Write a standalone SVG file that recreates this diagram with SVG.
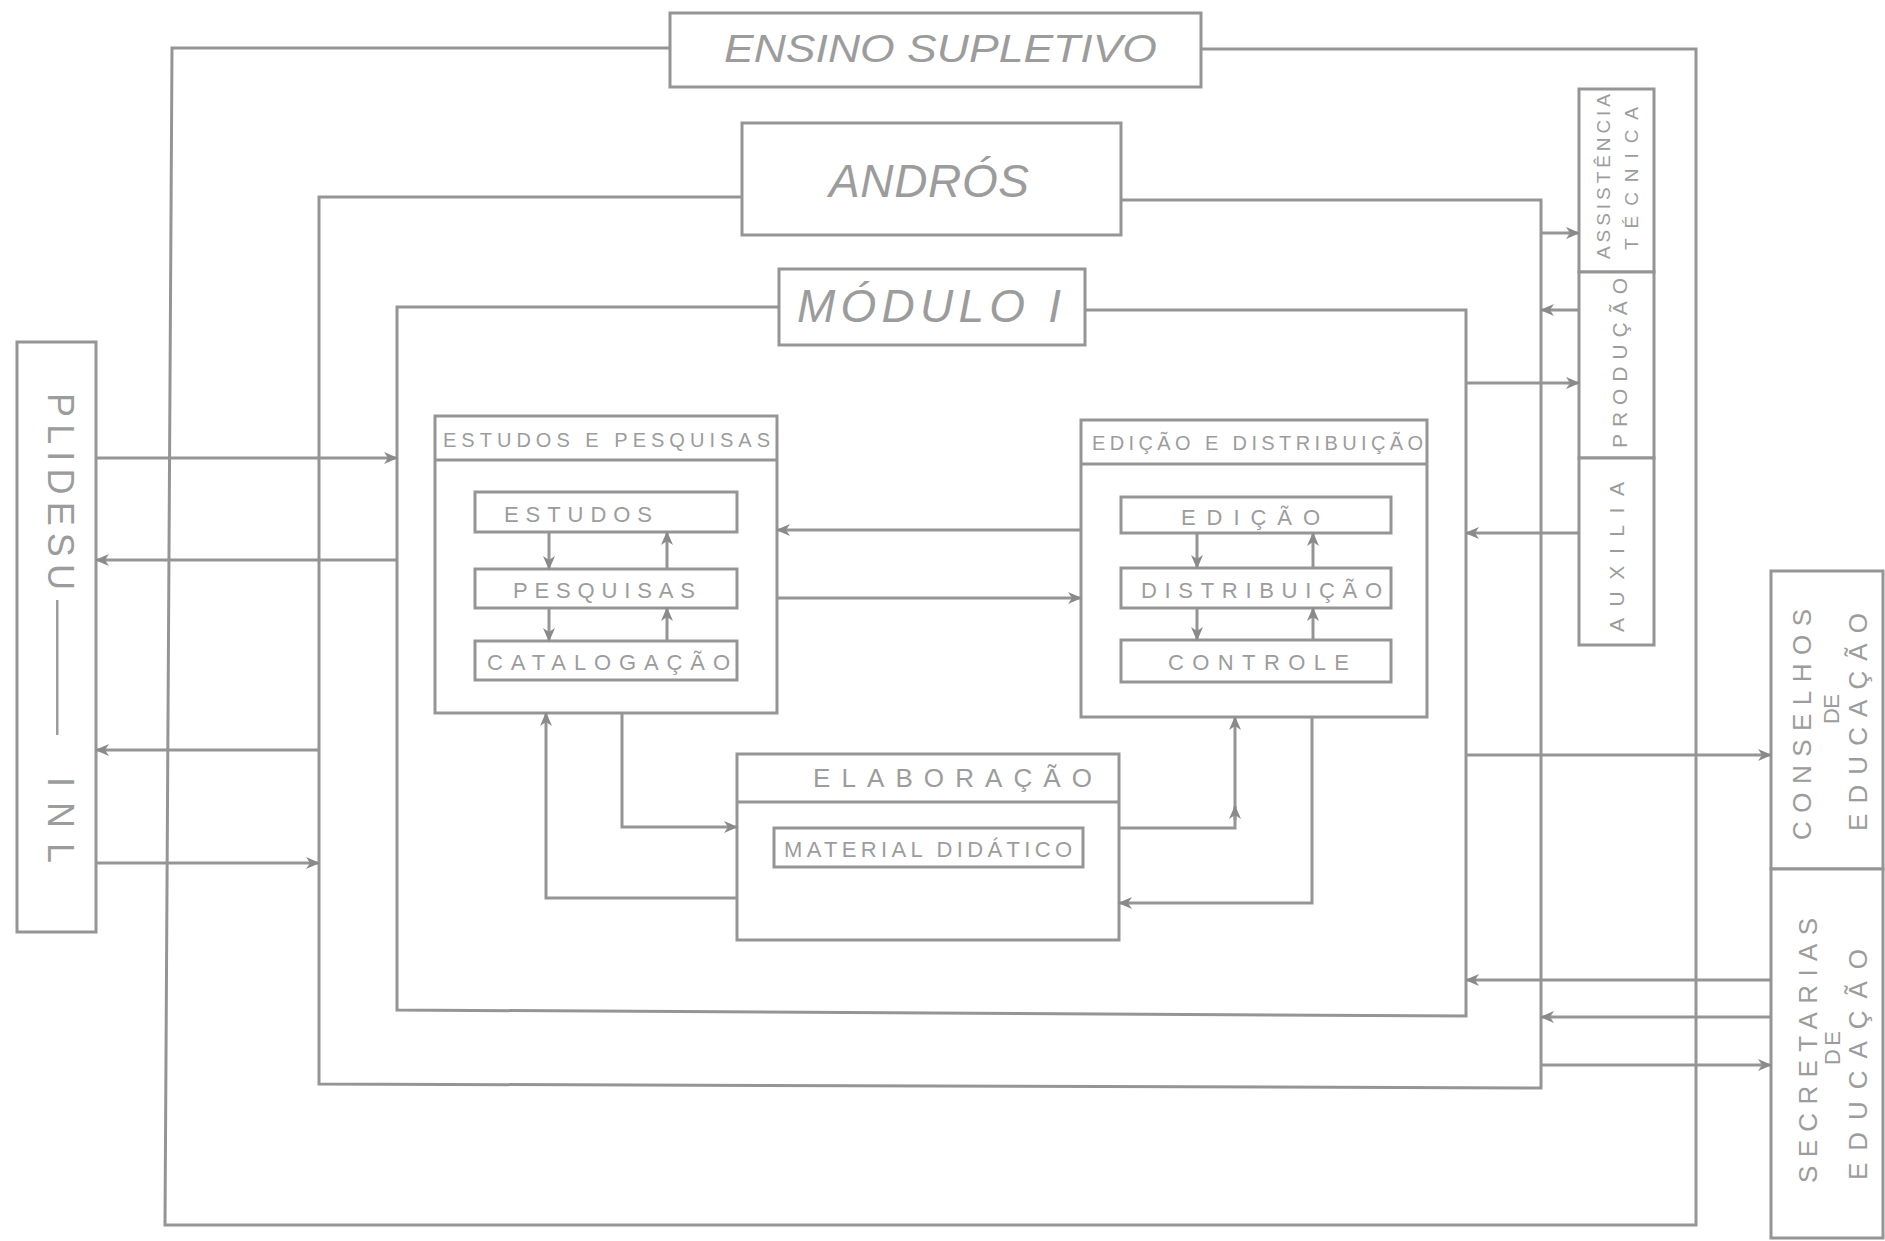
<svg xmlns="http://www.w3.org/2000/svg" width="1885" height="1241" viewBox="0 0 1885 1241">
<style>
.ln{fill:none;stroke:#959595;stroke-width:3;stroke-linejoin:miter}
.bx{fill:#ffffff;stroke:#959595;stroke-width:3}
.cn{fill:none;stroke:#959595;stroke-width:3}
.t{font-family:"Liberation Sans",Arial,sans-serif;fill:#9c9c9c}
.ti{font-family:"Liberation Sans",Arial,sans-serif;fill:#9c9c9c;font-style:italic}
</style>
<defs>
<marker id="arr" viewBox="0 0 14 12" refX="13" refY="6" markerWidth="14" markerHeight="12" markerUnits="userSpaceOnUse" orient="auto">
<path d="M0,0 L14,6 L0,12 L4,6 z" fill="#8a8a8a"/>
</marker>
</defs>
<rect width="1885" height="1241" fill="#ffffff"/>

<g id="ensino-supletivo">
<path class="ln" d="M670 48 L172 48 L165 1225 L1696 1225 L1696 49 L1201 49"/>
<rect class="bx" x="670" y="13" width="531" height="74"/>
<text class="ti" x="724" y="62" font-size="39" textLength="433" lengthAdjust="spacingAndGlyphs">ENSINO SUPLETIVO</text>
</g>

<g id="andros">
<path class="ln" d="M742 197 L319 197 L319 1084 L1541 1088 L1541 200 L1121 200"/>
<rect class="bx" x="742" y="123" width="379" height="112"/>
<text class="ti" x="829" y="197" font-size="46" textLength="200" lengthAdjust="spacing">ANDRÓS</text>
</g>

<g id="modulo-i">
<path class="ln" d="M779 307 L397 307 L397 1010 L1466 1016 L1466 310 L1085 310"/>
<rect class="bx" x="779" y="269" width="306" height="76"/>
<text class="ti" x="797" y="322" font-size="46" textLength="264" lengthAdjust="spacing">MÓDULO I</text>
</g>

<g id="plidesu-inl">
<rect class="bx" x="17" y="342" width="79" height="590"/>
<text class="t" transform="translate(48,393) rotate(90)" font-size="36" textLength="197" lengthAdjust="spacing">PLIDESU</text>
<text class="t" transform="translate(48,600) rotate(90)" font-size="36" textLength="135" lengthAdjust="spacingAndGlyphs">—</text>
<text class="t" transform="translate(48,777) rotate(90)" font-size="36" textLength="86" lengthAdjust="spacing">INL</text>
</g>

<g id="estudos-e-pesquisas">
<rect class="bx" x="435" y="416" width="342" height="297"/>
<line class="ln" x1="435" y1="460" x2="777" y2="460"/>
<text class="t" x="443" y="447" font-size="20" textLength="327" lengthAdjust="spacing">ESTUDOS E PESQUISAS</text>
</g>
<g id="estudos">
<rect class="bx" x="475" y="492" width="262" height="40"/>
<text class="t" x="504" y="522" font-size="22" textLength="148" lengthAdjust="spacing">ESTUDOS</text>
</g>
<g id="pesquisas">
<rect class="bx" x="475" y="569" width="262" height="39"/>
<text class="t" x="513" y="598" font-size="22" textLength="182" lengthAdjust="spacing">PESQUISAS</text>
</g>
<g id="catalogacao">
<rect class="bx" x="475" y="641" width="262" height="39"/>
<text class="t" x="487" y="670" font-size="22" textLength="243" lengthAdjust="spacing">CATALOGAÇÃO</text>
</g>

<g id="edicao-e-distribuicao">
<rect class="bx" x="1081" y="420" width="346" height="297"/>
<line class="ln" x1="1081" y1="464" x2="1427" y2="464"/>
<text class="t" x="1092" y="450" font-size="20" textLength="331" lengthAdjust="spacing">EDIÇÃO E DISTRIBUIÇÃO</text>
</g>
<g id="edicao">
<rect class="bx" x="1121" y="497" width="270" height="36"/>
<text class="t" x="1181" y="525" font-size="22" textLength="139" lengthAdjust="spacing">EDIÇÃO</text>
</g>
<g id="distribuicao">
<rect class="bx" x="1121" y="568" width="270" height="40"/>
<text class="t" x="1141" y="598" font-size="22" textLength="241" lengthAdjust="spacing">DISTRIBUIÇÃO</text>
</g>
<g id="controle">
<rect class="bx" x="1121" y="640" width="270" height="42"/>
<text class="t" x="1168" y="670" font-size="22" textLength="181" lengthAdjust="spacing">CONTROLE</text>
</g>

<g id="elaboracao">
<rect class="bx" x="737" y="754" width="382" height="186"/>
<line class="ln" x1="737" y1="802" x2="1119" y2="802"/>
<text class="t" x="813" y="787" font-size="26" textLength="279" lengthAdjust="spacing">ELABORAÇÃO</text>
</g>
<g id="material-didatico">
<rect class="bx" x="774" y="828" width="309" height="39"/>
<text class="t" x="784" y="857" font-size="22" textLength="288" lengthAdjust="spacing">MATERIAL DIDÁTICO</text>
</g>

<g id="assistencia-tecnica">
<rect class="bx" x="1579" y="89" width="75" height="183"/>
<text class="t" transform="translate(1610,259) rotate(-90)" font-size="19" textLength="165" lengthAdjust="spacing">ASSISTÊNCIA</text>
<text class="t" transform="translate(1638,250) rotate(-90)" font-size="19" textLength="143" lengthAdjust="spacing">TÉCNICA</text>
</g>
<g id="producao">
<rect class="bx" x="1579" y="272" width="75" height="186"/>
<text class="t" transform="translate(1627,448) rotate(-90)" font-size="21" textLength="170" lengthAdjust="spacing">PRODUÇÃO</text>
</g>
<g id="auxilia">
<rect class="bx" x="1579" y="458" width="75" height="187"/>
<text class="t" transform="translate(1624,632) rotate(-90)" font-size="21" textLength="150" lengthAdjust="spacing">AUXILIA</text>
</g>

<g id="conselhos-de-educacao">
<rect class="bx" x="1771" y="571" width="112" height="298"/>
<text class="t" transform="translate(1811,840) rotate(-90)" font-size="26" textLength="231" lengthAdjust="spacing">CONSELHOS</text>
<text class="t" transform="translate(1839,724) rotate(-90)" font-size="22" textLength="30" lengthAdjust="spacing">DE</text>
<text class="t" transform="translate(1867,831) rotate(-90)" font-size="26" textLength="218" lengthAdjust="spacing">EDUCAÇÃO</text>
</g>
<g id="secretarias-de-educacao">
<rect class="bx" x="1771" y="869" width="112" height="369"/>
<text class="t" transform="translate(1817,1183) rotate(-90)" font-size="26" textLength="265" lengthAdjust="spacing">SECRETARIAS</text>
<text class="t" transform="translate(1840,1065) rotate(-90)" font-size="22" textLength="34" lengthAdjust="spacing">DE</text>
<text class="t" transform="translate(1867,1180) rotate(-90)" font-size="26" textLength="231" lengthAdjust="spacing">EDUCAÇÃO</text>
</g>

<g id="connectors">
<path class="cn" d="M549 532 L549 569" marker-end="url(#arr)"/>
<path class="cn" d="M667 569 L667 532" marker-end="url(#arr)"/>
<path class="cn" d="M549 608 L549 641" marker-end="url(#arr)"/>
<path class="cn" d="M667 641 L667 608" marker-end="url(#arr)"/>
<path class="cn" d="M1197 533 L1197 568" marker-end="url(#arr)"/>
<path class="cn" d="M1313 568 L1313 533" marker-end="url(#arr)"/>
<path class="cn" d="M1197 608 L1197 640" marker-end="url(#arr)"/>
<path class="cn" d="M1313 640 L1313 608" marker-end="url(#arr)"/>
<path class="cn" d="M1081 530 L777 530" marker-end="url(#arr)"/>
<path class="cn" d="M777 598 L1081 598" marker-end="url(#arr)"/>
<path class="cn" d="M737 898 L546 898 L546 713" marker-end="url(#arr)"/>
<path class="cn" d="M622 713 L622 827 L737 827" marker-end="url(#arr)"/>
<path class="cn" d="M1119 828 L1235 828 L1235 717" marker-end="url(#arr)"/>
<path class="cn" d="M1235 820 L1235 806" marker-end="url(#arr)"/>
<path class="cn" d="M1312 717 L1312 903 L1119 903" marker-end="url(#arr)"/>
<path class="cn" d="M96 458 L397 458" marker-end="url(#arr)"/>
<path class="cn" d="M397 560 L96 560" marker-end="url(#arr)"/>
<path class="cn" d="M319 750 L96 750" marker-end="url(#arr)"/>
<path class="cn" d="M96 863 L319 863" marker-end="url(#arr)"/>
<path class="cn" d="M1541 233 L1579 233" marker-end="url(#arr)"/>
<path class="cn" d="M1579 310 L1541 310" marker-end="url(#arr)"/>
<path class="cn" d="M1466 383 L1579 383" marker-end="url(#arr)"/>
<path class="cn" d="M1579 533 L1466 533" marker-end="url(#arr)"/>
<path class="cn" d="M1466 755 L1771 755" marker-end="url(#arr)"/>
<path class="cn" d="M1771 980 L1466 980" marker-end="url(#arr)"/>
<path class="cn" d="M1771 1017 L1541 1017" marker-end="url(#arr)"/>
<path class="cn" d="M1541 1065 L1771 1065" marker-end="url(#arr)"/>
</g>
</svg>
